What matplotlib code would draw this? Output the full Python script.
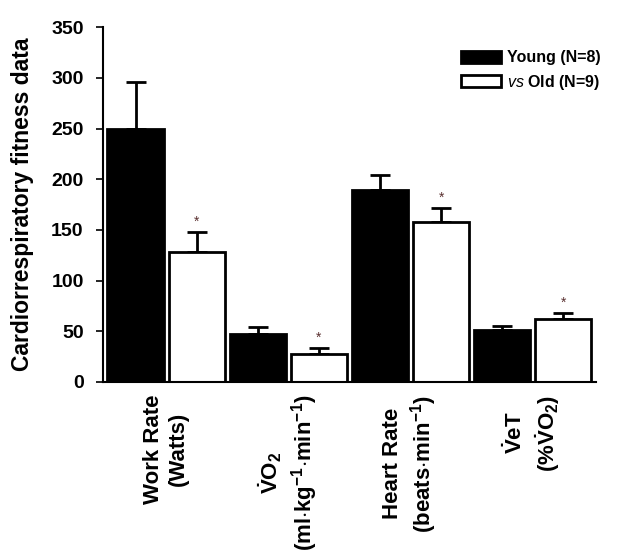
import matplotlib
matplotlib.use("Agg")
import matplotlib.pyplot as plt
import numpy as np

plt.rcParams['font.family'] = ['Liberation Sans', 'DejaVu Sans']
plt.rcParams['mathtext.fontset'] = 'custom'
plt.rcParams['mathtext.rm'] = 'Liberation Sans'
plt.rcParams['mathtext.bf'] = 'Liberation Sans:bold'
plt.rcParams['mathtext.it'] = 'Liberation Sans:italic'

categories = [
    "Work Rate\n(Watts)",
    r"$\mathbf{\dot{V}O_2}$" + "\n" + r"$\mathbf{(ml{\cdot}kg^{-1}{\cdot}min^{-1})}$",
    "Heart Rate\n" + r"$\mathbf{(beats{\cdot}min^{-1})}$",
    r"$\mathbf{\dot{V}eT}$" + "\n" + r"$\mathbf{(\%\dot{V}O_2)}$",
]
young = [250, 47, 189, 51]
young_err = [46, 7, 15, 4]
old = [128, 28, 158, 62]
old_err = [20, 6, 14, 6]
series_labels = ["Young (N=8)", r"$\mathit{vs}$ Old (N=9)"]
yticks = [0, 50, 100, 150, 200, 250, 300, 350]

fig = plt.figure(figsize=(6.33, 5.56), dpi=100)
ax = fig.add_axes([0.163, 0.313, 0.778, 0.638])

n = len(categories)
xy = np.arange(n) * 2.0
xo = xy + 1.0
w = 0.92

ax.bar(xy, young, width=w, color='black', edgecolor='black', linewidth=2, label=series_labels[0], zorder=2)
ax.bar(xo, old, width=w, color='white', edgecolor='black', linewidth=2, label=series_labels[1], zorder=2)
ax.errorbar(xy, young, yerr=[np.zeros(n), young_err], fmt='none', ecolor='black', elinewidth=2, capsize=7, capthick=2, zorder=1)
ax.errorbar(xo, old, yerr=[np.zeros(n), old_err], fmt='none', ecolor='black', elinewidth=2, capsize=7, capthick=2, zorder=1)

for x, v, e in zip(xo, old, old_err):
    ax.text(x, v + e + 3, "*", ha='center', va='bottom', fontsize=10, color='#5a3030')

ax.set_xlim(-0.53, 7.53)
ax.set_ylim(0, 350)
ax.set_yticks(yticks)
ax.set_yticklabels([str(t) for t in yticks], fontsize=14, fontweight='bold')
ax.tick_params(axis='y', direction='out', length=5, width=1.2, pad=9)
ax.set_xticks((xy + xo) / 2)
ax.set_xticklabels(categories, rotation=90, fontsize=16, fontweight='bold', ha='center', va='top', multialignment='center', linespacing=1.25)
ax.tick_params(axis='x', length=0, pad=9)
ax.set_ylabel("Cardiorrespiratory fitness data", fontsize=16.5, fontweight='bold')
ax.yaxis.set_label_coords(-0.14, 0.5)

for s in ['top', 'right']:
    ax.spines[s].set_visible(False)
ax.spines['left'].set_linewidth(1.5)
ax.spines['bottom'].set_linewidth(1.5)

leg = ax.legend(loc='upper right', bbox_to_anchor=(1.04, 0.975), frameon=False,
                prop={'weight': 'bold', 'size': 11.5}, handlelength=2.5, handleheight=0.75,
                handletextpad=0.4, labelspacing=0.45)

fig.savefig("out.png", dpi=100)
